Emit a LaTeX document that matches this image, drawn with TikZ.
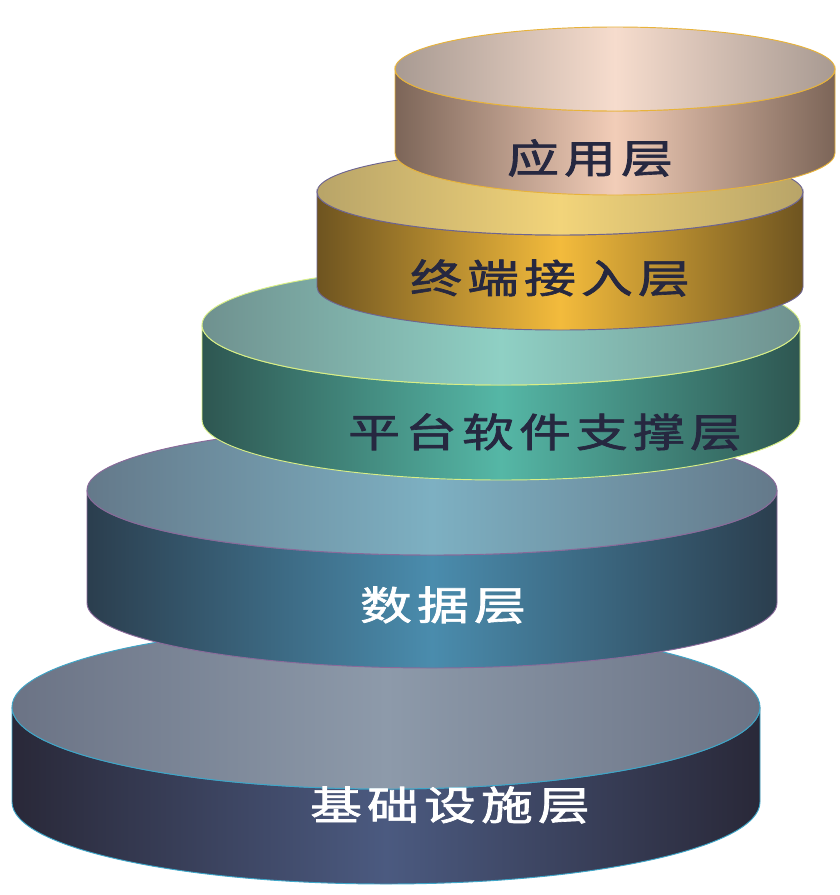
\documentclass[tikz,border=0pt]{standalone}
\usepackage{fontspec}
\newfontfamily\cjk[LetterSpace=10,FakeBold=1.6]{Noto Sans CJK SC}
\definecolor{appEdge}{RGB}{124,101,88}
\definecolor{appMid}{RGB}{242,205,184}
\definecolor{appTopEdge}{RGB}{168,154,146}
\definecolor{appTopMid}{RGB}{246,220,205}
\definecolor{appLine}{RGB}{232,179,58}
\definecolor{termEdge}{RGB}{110,84,32}
\definecolor{termMid}{RGB}{243,187,60}
\definecolor{termTopEdge}{RGB}{184,164,104}
\definecolor{termTopMid}{RGB}{242,212,122}
\definecolor{termLine}{RGB}{109,100,144}
\definecolor{platEdge}{RGB}{46,86,81}
\definecolor{platMid}{RGB}{85,183,166}
\definecolor{platTopEdge}{RGB}{111,145,143}
\definecolor{platTopMid}{RGB}{143,208,196}
\definecolor{platLine}{RGB}{217,239,134}
\definecolor{dataEdge}{RGB}{43,62,78}
\definecolor{dataMid}{RGB}{74,140,173}
\definecolor{dataTopEdge}{RGB}{100,121,138}
\definecolor{dataTopMid}{RGB}{125,176,194}
\definecolor{dataLine}{RGB}{138,106,154}
\definecolor{infraEdge}{RGB}{41,40,56}
\definecolor{infraMid}{RGB}{75,90,128}
\definecolor{infraTopEdge}{RGB}{107,115,133}
\definecolor{infraTopMid}{RGB}{141,154,170}
\definecolor{infraLine}{RGB}{63,166,200}
\definecolor{labelDark}{RGB}{38,40,64}

\begin{document}
\begin{tikzpicture}[x=0.03cm,y=0.03cm,
    layer side/.style 2 args={left color=#1,right color=#1,middle color=#2},
    layer top/.style 2 args={left color=#1,right color=#1,middle color=#2},
    layer label/.style={font=\cjk\fontsize{34}{40}\selectfont,inner sep=0pt}]
  \useasboundingbox (0,0) rectangle (839,-895);
  % Bottom: infrastructure
  \draw[infraLine,line width=0.8pt,layer side={infraEdge}{infraMid}]
    (12,-707) -- (12,-802) arc[start angle=180,end angle=360,x radius=374,y radius=82]
    -- (760,-707) arc[start angle=0,end angle=-180,x radius=374,y radius=82] -- cycle;
  \draw[infraLine,line width=0.8pt,layer top={infraTopEdge}{infraTopMid}]
    (386,-707) ellipse[x radius=374,y radius=82];
  \node[layer label,text=white] (infra) at (450,-805) {\scalebox{1.3}[1]{基础设施层}};
  % Data
  \draw[dataLine,line width=0.8pt,layer side={dataEdge}{dataMid}]
    (87,-490) -- (87,-603) arc[start angle=180,end angle=360,x radius=345,y radius=65]
    -- (777,-490) arc[start angle=0,end angle=-180,x radius=345,y radius=65] -- cycle;
  \draw[dataLine,line width=0.8pt,layer top={dataTopEdge}{dataTopMid}]
    (432,-490) ellipse[x radius=345,y radius=65];
  \node[layer label,text=white] (data) at (443,-605) {\scalebox{1.3}[1]{数据层}};
  % Platform software support
  \draw[platLine,line width=0.8pt,layer side={platEdge}{platMid}]
    (202,-325) -- (202,-420) arc[start angle=180,end angle=360,x radius=299,y radius=60]
    -- (800,-325) arc[start angle=0,end angle=-180,x radius=299,y radius=60] -- cycle;
  \draw[platLine,line width=0.8pt,layer top={platTopEdge}{platTopMid}]
    (501,-325) ellipse[x radius=299,y radius=60];
  \node[layer label,text=labelDark] (plat) at (545,-432) {\scalebox{1.3}[1]{平台软件支撑层}};
  % Terminal access
  \draw[termLine,line width=0.8pt,layer side={termEdge}{termMid}]
    (317,-192) -- (317,-287) arc[start angle=180,end angle=360,x radius=243,y radius=43]
    -- (803,-192) arc[start angle=0,end angle=-180,x radius=243,y radius=43] -- cycle;
  \draw[termLine,line width=0.8pt,layer top={termTopEdge}{termTopMid}]
    (560,-192) ellipse[x radius=243,y radius=43];
  \node[layer label,text=labelDark] (term) at (550,-278) {\scalebox{1.3}[1]{终端接入层}};
  % Top: application
  \draw[appLine,line width=0.8pt,layer side={appEdge}{appMid}]
    (395,-69) -- (395,-153) arc[start angle=180,end angle=360,x radius=220,y radius=42]
    -- (835,-69) arc[start angle=0,end angle=-180,x radius=220,y radius=42] -- cycle;
  \draw[appLine,line width=0.8pt,layer top={appTopEdge}{appTopMid}]
    (615,-69) ellipse[x radius=220,y radius=42];
  \node[layer label,text=labelDark] (app) at (590,-158) {\scalebox{1.3}[1]{应用层}};
\end{tikzpicture}
\end{document}
